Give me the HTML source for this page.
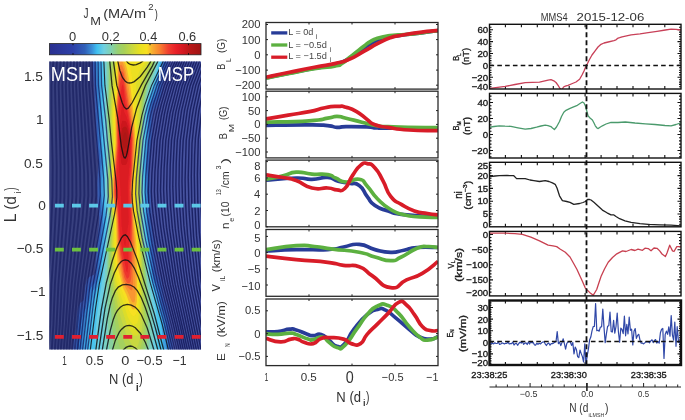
<!DOCTYPE html>
<html><head><meta charset="utf-8"><style>
html,body{margin:0;padding:0;background:#fff;overflow:hidden;}
svg{display:block;will-change:transform;}
text{font-family:"Liberation Sans", sans-serif;}
</style></head><body>
<svg width="685" height="420" viewBox="0 0 685 420" font-family='"Liberation Sans", sans-serif'><rect width="685" height="420" fill="#fff"/><linearGradient id="cbg" x1="0" x2="1" y1="0" y2="0"><stop offset="0.003" stop-color="#2a3090"/><stop offset="0.155" stop-color="#2d40a8"/><stop offset="0.234" stop-color="#3060b8"/><stop offset="0.281" stop-color="#3a90d8"/><stop offset="0.314" stop-color="#40c0f0"/><stop offset="0.360" stop-color="#70d0e0"/><stop offset="0.405" stop-color="#80d0b0"/><stop offset="0.452" stop-color="#98d070"/><stop offset="0.492" stop-color="#a8d058"/><stop offset="0.544" stop-color="#c8d840"/><stop offset="0.597" stop-color="#e8e020"/><stop offset="0.643" stop-color="#f8e020"/><stop offset="0.676" stop-color="#f8b030"/><stop offset="0.729" stop-color="#f88030"/><stop offset="0.783" stop-color="#f04030"/><stop offset="0.835" stop-color="#e82028"/><stop offset="0.888" stop-color="#d01820"/><stop offset="0.928" stop-color="#b81818"/><stop offset="1.000" stop-color="#a01414"/></linearGradient><rect x="49.5" y="43.6" width="151.5" height="11.2" fill="url(#cbg)" stroke="#222" stroke-width="0.8"/><path d="M73.0,43.6 v1.6 M73.0,54.8 v-1.6" stroke="#111" stroke-width="1"/><path d="M111.5,43.6 v1.6 M111.5,54.8 v-1.6" stroke="#111" stroke-width="1"/><path d="M150.0,43.6 v1.6 M150.0,54.8 v-1.6" stroke="#111" stroke-width="1"/><path d="M188.5,43.6 v1.6 M188.5,54.8 v-1.6" stroke="#111" stroke-width="1"/><clipPath id="cA"><rect x="49.3" y="61.4" width="151.7" height="288.2"/></clipPath><filter id="bl" x="-5%" y="-5%" width="110%" height="110%"><feGaussianBlur stdDeviation="0.6"/></filter><g clip-path="url(#cA)"><g filter="url(#bl)"><linearGradient id="ffg" gradientUnits="userSpaceOnUse" x1="100" x2="150" y1="0" y2="0"><stop offset="0" stop-color="#37417f"/><stop offset="1" stop-color="#4753a0"/></linearGradient><rect x="44.3" y="56.4" width="161.7" height="298.2" fill="url(#ffg)"/><path d="M92.1,58.4 168.5,58.4 167.2,73.4 166.1,77.4 163.3,82.0 161.3,96.4 160.2,101.4 157.7,106.4 153.3,110.2 152.9,112.4 151.5,144.4 149.7,166.4 151.6,221.4 152.3,228.5 153.9,237.4 156.6,271.4 157.3,274.9 160.3,278.4 161.6,281.4 162.6,286.4 164.3,300.2 166.8,303.4 168.1,307.4 170.3,331.0 172.4,340.4 173.3,352.4 72.8,352.4 73.6,342.4 76.3,327.0 77.2,314.4 78.5,306.4 80.3,302.8 83.3,300.8 84.1,298.4 85.5,285.4 87.2,279.4 89.3,277.0 94.3,274.6 94.9,272.4 97.8,235.4 99.2,222.4 99.2,217.4 97.7,204.4 97.4,195.4 97.4,182.4 98.3,163.4 96.6,147.4 94.3,89.6 92.1,58.4Z" fill="#3b5aad"/><path d="M93.3,58.4 166.8,58.4 165.5,66.4 162.1,76.4 158.5,95.4 156.4,100.4 153.3,104.3 151.4,111.4 150.1,142.4 148.5,159.4 148.3,167.4 150.0,222.4 152.6,244.4 154.7,270.4 156.3,278.3 160.5,288.4 163.3,304.2 166.8,313.4 169.3,339.2 171.3,352.4 75.2,352.4 76.9,341.4 79.0,318.4 79.9,313.4 81.2,310.4 84.3,305.9 87.2,289.4 88.3,285.8 90.9,282.4 94.3,279.9 95.7,276.4 100.3,225.4 100.3,214.4 98.5,191.4 99.4,161.4 97.6,142.4 95.3,86.4 93.3,58.4Z" fill="#325fb6"/><path d="M94.3,58.4 165.1,58.4 161.2,72.4 157.0,92.4 155.9,95.4 152.3,102.1 150.1,110.4 149.5,116.4 148.9,141.4 147.2,158.4 147.0,167.4 147.9,189.4 148.5,222.4 151.2,246.4 153.2,271.4 155.0,279.4 159.2,291.4 162.2,306.4 165.5,317.4 169.2,352.4 78.2,352.4 80.3,328.7 81.8,318.4 85.6,308.4 89.1,291.4 91.3,287.3 95.3,282.7 96.6,277.4 98.5,261.4 101.5,225.4 101.5,214.4 99.7,191.4 100.5,161.4 98.7,140.4 96.0,76.4 94.3,58.4Z" fill="#367bca"/><path d="M96.5,58.4 163.3,58.4 160.3,68.8 155.8,89.4 150.9,101.4 148.8,109.4 145.8,167.4 147.0,222.4 151.9,271.4 153.3,279.4 157.4,292.4 163.2,318.4 165.3,335.7 166.3,352.4 82.3,352.4 82.9,338.4 85.6,318.4 91.3,294.4 92.4,291.4 95.3,287.4 96.1,285.4 98.7,273.4 103.1,224.4 103.0,214.4 101.2,191.4 101.8,161.4 100.2,141.4 98.5,90.4 96.5,58.4Z" fill="#3ca0e0"/><path d="M99.8,58.4 161.3,58.4 155.0,85.4 149.3,101.2 147.7,108.4 147.0,115.4 144.5,167.4 145.5,219.4 146.1,228.4 151.4,277.4 152.7,283.4 155.6,293.4 160.8,319.4 162.8,339.4 163.2,352.4 87.7,352.4 88.3,336.4 90.9,313.4 93.3,301.5 98.9,283.4 100.7,274.4 105.1,222.4 105.0,215.4 103.2,192.4 103.3,160.4 102.1,141.4 101.7,106.4 99.8,58.4Z" fill="#4ac3ed"/><path d="M102.9,58.4 159.6,58.4 154.5,81.4 148.3,99.2 146.6,107.4 145.9,115.4 143.4,164.4 144.4,223.4 149.8,276.4 153.4,294.4 156.5,315.4 157.5,352.4 95.3,352.4 95.5,337.4 96.7,317.4 102.6,276.4 106.8,221.4 104.9,192.4 104.9,155.4 103.7,116.4 104.2,85.4 102.9,58.4Z" fill="#6bcee2"/><path d="M105.4,58.4 157.9,58.4 154.3,76.1 148.3,93.8 145.9,104.4 144.9,114.4 142.3,162.4 143.3,223.8 148.3,277.0 152.1,303.4 153.4,316.4 153.2,340.4 152.5,347.4 151.4,352.4 103.8,352.4 104.0,292.4 106.4,243.4 108.3,220.4 106.3,191.4 106.6,139.4 105.3,115.4 106.2,82.4 105.4,58.4Z" fill="#7ad0c3"/><path d="M107.2,58.4 156.5,58.4 154.3,70.4 148.3,88.0 145.3,101.4 144.0,114.4 141.3,161.5 142.3,222.6 144.3,243.4 147.3,283.0 150.6,316.4 150.0,338.4 148.9,346.4 147.5,352.4 109.0,352.4 106.8,279.4 107.7,244.4 109.6,220.4 107.5,192.4 108.1,141.4 106.7,116.4 107.6,90.4 107.2,58.4Z" fill="#87d09e"/><path d="M109.1,58.4 155.5,58.4 153.3,68.5 147.3,85.5 144.6,98.4 143.3,111.4 140.3,161.4 141.4,221.4 143.4,243.4 148.5,318.4 147.6,337.4 146.5,344.4 144.4,352.4 114.1,352.4 108.3,272.4 108.8,243.4 110.6,220.4 110.3,214.4 108.6,201.4 108.1,191.4 109.4,139.4 107.8,114.4 108.7,92.4 109.1,58.4Z" fill="#97d073"/><path d="M111.5,58.4 154.4,58.4 152.3,65.9 146.8,81.4 143.8,95.4 142.6,107.4 139.4,161.4 140.5,220.4 142.6,244.4 146.4,318.4 145.5,335.4 141.9,352.4 121.2,352.4 118.3,342.3 116.6,333.4 112.4,301.4 110.2,279.4 109.7,270.4 109.8,243.4 111.3,225.5 111.4,218.4 109.3,200.4 108.7,190.4 109.9,165.4 110.4,141.4 108.9,112.4 110.2,72.4 111.5,58.4Z" fill="#a4d05e"/><path d="M113.4,58.4 152.9,58.4 145.9,78.4 143.0,91.4 141.9,102.4 140.0,141.4 138.5,160.4 139.4,219.4 141.7,244.4 144.4,319.4 144.1,328.4 143.1,336.4 141.3,344.7 138.9,352.4 129.1,352.4 125.3,344.7 122.6,337.4 119.3,327.3 117.3,317.5 114.2,298.4 111.5,275.4 110.8,244.4 112.2,218.4 109.8,198.4 109.3,190.4 110.6,167.4 111.3,142.4 110.0,113.4 111.3,77.4 113.4,58.4Z" fill="#b6d34e"/><path d="M114.8,58.4 151.1,58.4 145.9,72.4 142.9,82.4 141.5,90.4 140.7,102.4 139.0,141.4 137.8,159.4 137.6,171.4 138.3,220.4 140.3,235.6 141.0,246.4 142.2,290.4 142.4,321.4 141.8,329.4 140.3,337.4 138.3,344.4 137.3,346.6 136.3,347.4 133.3,347.2 128.3,338.9 125.9,333.4 121.3,319.4 119.3,312.4 116.3,298.0 114.0,284.4 112.8,272.4 111.7,245.4 112.9,218.4 112.3,210.5 110.3,196.5 110.0,189.4 112.1,142.4 110.9,116.4 111.2,101.4 112.4,80.4 114.8,58.4Z" fill="#c9d83f"/><path d="M115.8,58.4 149.3,58.4 141.3,78.6 139.9,87.4 139.1,100.4 138.0,141.4 136.9,162.4 136.9,194.4 137.4,222.4 140.2,245.4 141.0,302.4 140.5,317.4 139.8,326.4 138.3,333.7 137.3,335.5 136.3,335.6 133.3,335.5 128.3,328.3 127.1,325.4 119.3,300.5 115.3,283.8 114.0,273.4 112.7,246.4 113.6,218.4 111.0,195.4 110.8,189.4 113.0,142.4 111.9,117.4 112.1,105.4 115.8,58.4Z" fill="#dcdd2c"/><path d="M116.5,58.4 147.2,58.4 144.3,64.6 140.3,69.4 137.3,76.5 136.2,83.4 137.1,139.4 136.2,163.4 135.8,197.4 136.6,224.4 139.3,246.8 139.7,295.4 139.3,309.4 138.3,320.0 137.3,323.1 133.3,325.3 129.3,320.1 127.3,315.7 124.3,305.4 121.3,297.5 116.3,280.2 115.0,271.4 113.9,246.4 114.4,218.4 111.9,196.4 111.6,189.4 113.8,141.4 112.9,117.4 113.0,108.4 116.0,74.4 116.5,58.4Z" fill="#ece020"/><path d="M117.0,58.4 126.9,58.4 130.1,65.4 132.1,77.4 135.0,113.4 136.1,140.4 134.6,184.4 134.6,197.4 135.7,224.4 137.7,242.4 138.3,252.0 138.7,279.4 138.4,299.4 137.5,309.4 136.3,313.6 135.3,315.1 133.3,316.3 131.3,314.6 128.9,310.4 125.3,299.2 121.7,290.4 117.1,274.4 116.1,266.4 115.4,248.4 115.2,218.4 112.9,200.4 112.3,189.4 114.7,141.4 114.1,110.4 116.3,88.0 117.0,58.4ZM141.7,58.4 144.4,58.4 143.3,59.2 141.7,58.4Z" fill="#f7e020"/><path d="M117.7,58.4 122.9,58.4 125.4,63.4 126.9,68.4 130.4,86.4 133.3,110.4 134.9,128.4 135.2,145.4 133.3,193.4 134.3,221.4 136.5,245.4 137.1,267.4 137.1,295.4 136.8,301.4 135.9,306.4 135.0,308.4 134.3,309.3 133.3,309.6 132.3,309.1 130.7,306.4 126.3,294.4 122.9,287.4 118.1,268.4 116.7,253.4 116.0,218.4 113.0,195.4 113.1,178.4 115.5,142.4 115.1,112.4 117.0,90.4 117.7,58.4Z" fill="#f8b52e"/><path d="M119.2,59.4 119.8,58.4 121.3,58.7 124.4,66.4 125.7,71.4 128.7,87.4 131.6,107.4 134.2,132.4 134.4,145.4 132.4,191.4 133.3,221.6 135.0,243.4 135.5,294.4 134.9,300.4 134.3,302.2 133.3,302.6 132.3,302.3 131.3,300.4 128.0,292.4 123.3,283.6 119.5,266.4 117.6,250.4 116.6,216.4 114.3,203.2 113.4,194.4 113.6,178.4 116.3,142.4 115.9,110.4 117.5,93.4 118.3,65.1 119.2,59.4Z" fill="#f89630"/><path d="M120.1,65.4 121.3,64.7 122.3,66.3 123.7,69.4 124.9,74.4 130.6,110.4 133.5,134.4 133.6,144.4 131.6,190.4 133.7,242.4 133.7,256.4 132.9,284.4 132.3,289.5 131.3,290.4 127.3,286.9 126.3,285.4 123.8,280.4 122.3,274.4 118.9,253.4 118.0,240.4 117.2,215.4 116.4,209.4 114.3,199.2 113.8,193.4 114.1,178.4 116.8,143.4 116.5,110.4 117.8,95.4 118.9,71.4 119.3,67.6 120.1,65.4Z" fill="#f77830"/><path d="M121.0,71.4 121.3,71.1 122.3,71.4 123.3,72.9 124.3,77.4 131.9,126.4 132.8,137.4 132.0,169.4 130.8,189.4 132.1,217.4 132.3,255.6 131.2,278.4 130.3,282.0 129.3,283.0 128.3,283.2 127.3,282.9 126.3,281.6 124.3,277.4 120.3,255.8 118.6,238.4 117.5,211.4 115.1,199.4 114.3,192.4 114.4,183.4 117.4,144.4 117.1,110.4 119.3,77.1 120.3,72.5 121.0,71.4Z" fill="#f25230"/><path d="M122.1,77.4 123.3,78.4 123.8,81.4 125.9,97.4 131.2,128.4 132.1,138.4 131.4,169.4 130.0,188.4 131.6,221.4 130.3,268.4 129.3,276.2 128.3,278.1 127.3,278.7 126.3,277.4 124.3,272.0 120.8,251.4 119.1,234.4 117.8,208.4 115.3,195.7 114.9,191.4 115.2,181.4 117.8,146.4 117.8,110.4 119.7,85.4 120.6,80.4 122.1,77.4Z" fill="#ed352d"/><path d="M122.1,85.4 122.3,84.8 123.3,85.8 125.2,103.4 127.3,111.9 130.0,126.4 131.3,138.4 130.8,166.4 129.5,179.4 129.0,189.4 129.4,201.4 130.7,215.4 130.7,224.4 128.9,243.4 128.1,266.4 127.3,272.7 126.3,271.1 121.3,244.9 119.3,225.3 118.4,205.4 117.7,199.4 116.3,194.6 115.9,190.4 118.4,148.4 118.5,113.4 120.3,94.8 122.1,85.4Z" fill="#e82228"/><path d="M122.2,103.4 123.3,106.1 124.4,112.4 126.3,115.9 128.3,122.7 129.9,131.4 130.5,138.4 130.2,156.4 127.7,187.4 128.7,221.4 125.3,246.0 124.3,244.1 123.3,238.7 121.6,225.4 120.7,193.4 119.1,169.4 119.3,126.4 122.2,103.4Z" fill="#db1c24"/><path d="M121.9,121.4 122.3,120.6 125.3,121.1 126.3,121.8 128.3,127.6 129.5,135.4 129.6,144.4 128.9,154.4 127.3,162.3 126.3,164.6 125.3,165.0 122.3,165.0 121.3,163.7 120.3,155.4 120.1,133.4 120.9,125.4 121.9,121.4Z" fill="#cc181f"/><path d="M124.9,126.4 126.3,127.1 127.3,129.1 128.3,133.2 128.8,139.4 128.0,150.4 127.3,153.4 126.3,155.1 125.3,155.8 123.3,155.0 122.2,153.4 121.3,148.8 121.0,141.4 121.3,133.4 122.2,128.4 123.3,127.2 124.9,126.4Z" fill="#b81818"/><path d="M124.6,132.4 125.3,132.1 126.3,133.4 127.5,138.4 127.2,144.4 126.3,147.4 125.3,148.8 124.3,148.4 123.3,146.6 122.4,141.4 122.9,135.4 124.6,132.4Z" fill="#ae1616"/></g><g fill="none" stroke="#141a5a" stroke-opacity="0.85"><path d="M89.0,58.4 89.4,62.4 89.1,85.4 95.9,177.4 96.3,195.4 94.4,215.4 84.1,284.4 77.2,352.4M86.1,58.4 86.4,62.4 85.9,85.4 91.9,175.4 92.3,195.4 90.5,215.4 81.1,284.4 74.5,352.4M83.1,58.4 83.4,62.4 82.7,85.4 88.0,174.4 88.3,195.4 86.6,216.4 78.0,284.4 71.9,352.4M80.0,58.4 80.3,62.4 79.5,85.4 84.1,172.4 84.4,195.4 82.6,217.4 74.9,284.4 69.1,352.4M76.9,58.4 77.2,62.4 76.1,85.4 80.1,169.4 80.4,195.4 78.7,218.4 71.7,284.4 66.4,352.4M73.7,58.4 74.0,62.4 72.8,85.4 76.2,168.4 76.4,195.4 74.8,219.4 68.4,284.4 65.9,324.4 63.5,352.4M70.5,58.4 70.7,62.4 69.3,85.4 72.3,167.4 72.4,196.4 70.9,220.4 65.1,284.4 62.8,324.4 60.6,352.4M67.1,58.4 67.3,62.4 65.8,85.4 68.4,166.4 68.4,196.4 67.0,221.4 61.8,284.4 59.8,324.4 57.7,352.4M63.7,58.4 63.9,62.4 62.3,85.4 64.5,166.4 64.4,196.4 63.1,221.4 58.4,284.4 56.6,324.4 54.7,352.4M60.3,58.4 60.5,62.4 58.7,85.4 60.6,166.4 60.5,196.4 59.2,222.4 54.9,284.4 53.4,324.4 51.6,352.4M56.8,58.4 56.9,62.4 55.0,85.4 56.7,166.4 56.5,197.4 53.9,248.4 51.4,284.4 50.1,324.4 48.5,352.4M53.2,58.4 53.3,62.4 51.4,85.4 51.5,110.4 52.7,166.4 52.5,196.4 50.1,249.4 47.9,284.4 46.3,334.2M49.6,58.4 49.7,62.4 47.6,85.4 48.7,182.4 48.2,208.4 46.3,249.4" stroke-width="1.9" stroke-opacity="0.6"/><path d="M179.7,352.4 173.3,324.4 163.0,284.4 155.0,244.4 149.9,212.4 148.7,201.4 148.2,191.4 148.8,174.4 151.6,140.4 156.2,114.4 158.7,104.4 164.4,85.4 174.6,62.4 175.9,58.4M181.8,352.4 175.5,324.4 165.4,284.4 158.5,248.4 156.1,235.4 153.0,213.4 151.8,201.4 151.3,191.4 151.9,173.4 154.4,140.4 158.9,114.4 161.3,104.4 166.9,85.4 176.9,62.4 178.2,58.4M183.9,352.4 177.6,324.4 167.9,284.4 164.7,267.4 159.5,238.4 157.3,223.4 155.2,205.4 154.4,191.4 154.9,172.4 157.2,140.4 161.4,115.4 163.7,105.4 169.4,85.4 179.2,62.4 180.5,58.4M186.0,352.4 179.9,324.4 170.3,284.4 167.4,268.4 162.3,238.4 160.2,223.4 158.1,204.4 157.5,190.4 158.0,170.4 160.1,140.4 164.3,114.4 166.6,104.4 172.0,85.4 181.6,62.4 182.9,58.4M188.1,352.4 172.8,284.4 170.5,271.4 163.6,227.4 161.4,206.4 160.5,190.4 161.1,169.4 162.9,140.4 167.1,114.4 169.3,104.4 174.5,85.4 184.0,62.4 185.2,58.4M190.3,352.4 175.2,284.4 173.1,271.4 166.5,227.4 164.3,205.4 163.6,189.4 164.1,168.4 165.8,140.4 170.0,113.4 177.1,85.4 186.4,62.4 187.6,58.4M192.5,352.4 177.8,284.4 175.6,271.4 169.5,228.4 167.4,205.4 166.7,188.4 167.1,166.4 168.6,140.4 172.9,112.4 179.7,85.4 188.9,62.4 190.1,58.4M194.7,352.4 180.3,284.4 178.3,271.4 172.4,228.4 170.4,205.4 169.8,187.4 170.2,165.4 171.5,140.4 175.7,112.4 182.3,85.4 191.4,62.4 192.5,58.4M196.9,352.4 182.8,284.4 180.9,271.4 175.3,228.4 173.5,205.4 172.8,186.4 173.2,164.4 174.4,140.4 178.6,111.4 184.9,85.4 193.9,62.4 195.0,58.4M199.2,352.4 185.4,284.4 183.6,271.4 178.4,229.4 176.5,205.4 175.9,185.4 176.2,163.4 177.3,140.4 181.6,110.4 187.6,85.4 196.4,62.4 197.6,58.4M201.5,352.4 188.0,284.4 186.2,271.4 181.3,229.4 179.5,204.4 179.0,184.4 179.3,162.4 180.3,140.4 184.5,110.4 190.3,85.4 199.0,62.4 200.1,58.4M203.3,349.7 190.7,284.4 188.4,267.4 183.9,225.4 182.5,201.4 182.0,181.4 182.3,160.4 183.2,140.4 187.3,110.4 193.0,85.4 201.6,62.4 202.7,58.4M203.3,336.9 193.4,284.4 190.0,257.4 187.6,235.4 186.4,218.4 185.4,198.4 185.1,179.4 186.2,140.4 190.2,110.4 195.8,85.4 203.3,65.0M203.3,323.3 196.1,284.4 191.7,246.4 189.1,211.4 188.2,177.4 189.2,140.4 192.0,117.4 193.3,109.4 198.6,85.4 203.3,72.2M203.3,309.6 198.6,283.4 193.6,236.4 191.8,204.4 191.3,176.4 192.0,143.4 193.6,127.4 196.4,108.4 201.4,85.4 203.3,79.9M203.3,294.8 201.1,281.4 196.5,235.4 194.8,203.4 194.3,175.4 194.6,155.4 195.4,138.4 198.9,110.4 203.3,89.5M203.3,275.7 199.2,231.4 197.8,201.4 197.4,174.4 198.3,139.4 201.3,114.4 203.3,103.0M203.3,246.0 201.2,211.4 200.5,173.4 201.3,140.4 203.3,121.9" stroke-width="1.45"/><path d="M100.5,58.4 101.0,62.4 101.6,85.4 105.7,120.4 107.4,140.4 111.8,180.4 112.4,196.4 111.6,205.4 110.0,215.4 96.1,284.4 92.8,308.4 87.4,352.4M171.2,352.4 164.5,324.4 153.0,283.4 142.0,237.4 137.1,210.4 135.6,193.4 136.3,178.4 140.0,140.4 144.9,115.4 147.6,105.4 154.3,85.4 165.2,62.4 166.5,58.4M97.7,58.4 98.1,62.4 98.5,85.4 107.8,179.4 108.3,196.4 106.0,215.4 93.1,284.4 84.9,352.4M173.4,352.4 166.7,324.4 155.5,283.4 145.7,240.4 140.5,211.4 138.9,193.4 139.5,177.4 143.0,140.4 147.8,115.4 150.4,105.4 156.9,85.4 167.5,62.4 168.9,58.4M94.8,58.4 95.2,62.4 95.4,85.4 103.7,178.4 104.3,195.4 102.2,214.4 90.1,284.4 82.3,352.4M175.5,352.4 168.9,324.4 157.9,283.4 148.8,241.4 143.6,211.4 142.0,192.4 142.6,176.4 145.9,140.4 150.5,115.4 153.1,105.4 159.4,85.4 169.9,62.4 171.2,58.4M91.9,58.4 92.3,62.4 92.2,85.4 99.9,178.4 100.3,195.4 98.3,214.4 87.1,284.4 79.7,352.4M177.6,352.4 171.1,324.4 160.6,284.4 152.0,243.4 146.8,212.4 145.1,192.4 145.7,176.4 148.7,140.4 153.3,115.4 155.8,105.4 161.9,85.4 172.2,62.4 173.6,58.4" stroke-width="1.3" stroke-opacity="0.75"/><path d="M103.4,58.4 103.9,62.4 104.9,85.4 109.2,119.4 111.2,140.4 116.1,181.4 116.8,190.4 116.8,197.4 116.0,205.4 114.5,214.4 99.2,284.4 95.4,309.4 90.0,352.4M169.0,352.4 162.3,324.6 150.4,283.4 138.8,237.4 133.6,211.4 132.4,202.4 132.0,194.4 132.6,181.4 136.9,140.4 141.9,115.4 144.7,105.4 151.6,85.4 162.7,62.4 164.1,58.4" stroke-width="1.15" stroke="#101018" stroke-opacity="0.85"/><path d="M139.6,352.4 135.3,347.9 132.3,346.3 130.3,346.0 128.3,346.3 126.1,347.4 123.8,349.4 121.5,352.4M149.3,352.4 145.3,342.3 140.3,333.2 135.3,327.8 132.3,326.0 129.3,325.3 126.3,325.8 124.3,326.9 121.4,329.4 119.3,332.2 115.3,340.4 111.7,352.4M124.3,58.4 128.3,63.3 130.3,64.5 133.3,65.0 136.3,64.6 140.3,62.9 142.4,61.4 145.0,58.4M154.7,352.4 147.3,328.3 141.3,314.7 138.3,310.3 135.3,307.3 131.3,305.1 127.3,304.3 123.3,305.3 120.3,307.2 117.3,310.6 115.3,314.3 113.3,319.4 110.3,330.3 106.0,352.4M117.2,58.4 119.8,70.4 122.3,77.2 125.3,81.3 127.3,82.6 129.3,83.0 131.3,82.8 134.3,81.6 140.3,76.5 147.3,67.2 150.2,62.4 151.9,58.4M158.5,352.4 150.3,322.3 145.3,307.5 141.3,297.8 137.3,290.6 134.3,287.3 130.3,285.0 126.3,284.3 122.3,284.9 118.3,287.1 115.3,290.9 112.3,297.9 110.1,305.4 107.3,318.7 101.9,352.4M113.0,58.4 116.8,85.4 122.3,103.0 124.3,107.2 126.3,109.0 128.3,108.2 132.3,102.5 141.7,84.4 152.3,66.1 155.8,58.4M161.6,352.4 155.3,327.6 150.3,310.6 145.3,295.5 138.3,277.1 134.3,268.1 131.3,263.4 128.3,260.7 125.3,259.9 123.3,260.3 121.3,261.5 118.3,264.9 114.3,273.0 110.3,284.4 105.0,308.4 98.5,352.4M109.5,58.4 112.0,85.4 117.8,118.4 121.3,146.1 123.3,155.4 124.3,157.6 125.3,157.9 126.3,156.1 127.3,152.0 131.7,127.4 136.6,108.4 145.4,85.4 157.3,62.5 158.8,58.4M164.3,352.4 154.3,313.9 137.3,259.6 130.3,241.8 127.3,236.5 125.3,234.8 123.3,235.6 121.3,238.2 116.3,249.0 112.3,260.8 106.3,282.8 101.3,309.8 95.5,352.4" stroke-width="1.3" stroke="#111" stroke-opacity="0.85"/></g><clipPath id="jband"><path d="M93.9,58.4 165.8,58.4 161.3,75.1 157.6,93.4 156.0,97.4 152.9,102.4 150.7,110.4 149.4,141.4 147.8,158.4 147.5,167.4 149.1,222.4 153.7,270.4 156.0,280.4 159.7,290.4 162.6,305.4 166.1,316.4 170.1,352.4 76.7,352.4 80.6,317.4 85.0,307.4 88.3,290.4 90.3,286.4 95.0,281.4 96.2,277.4 101.0,226.4 101.0,214.4 99.2,191.4 100.1,161.4 98.2,141.4 95.8,82.4 93.9,58.4Z"/></clipPath><g clip-path="url(#jband)" fill="none" stroke="#141a5a" stroke-opacity="0.55" stroke-width="1.1"><path d="M89.0,58.4 89.4,62.4 89.1,85.4 95.9,177.4 96.3,195.4 94.4,215.4 84.1,284.4 77.2,352.4M86.1,58.4 86.4,62.4 85.9,85.4 91.9,175.4 92.3,195.4 90.5,215.4 81.1,284.4 74.5,352.4M83.1,58.4 83.4,62.4 82.7,85.4 88.0,174.4 88.3,195.4 86.6,216.4 78.0,284.4 71.9,352.4M80.0,58.4 80.3,62.4 79.5,85.4 84.1,172.4 84.4,195.4 82.6,217.4 74.9,284.4 69.1,352.4M76.9,58.4 77.2,62.4 76.1,85.4 80.1,169.4 80.4,195.4 78.7,218.4 71.7,284.4 66.4,352.4M73.7,58.4 74.0,62.4 72.8,85.4 76.2,168.4 76.4,195.4 74.8,219.4 68.4,284.4 65.9,324.4 63.5,352.4M70.5,58.4 70.7,62.4 69.3,85.4 72.3,167.4 72.4,196.4 70.9,220.4 65.1,284.4 62.8,324.4 60.6,352.4M67.1,58.4 67.3,62.4 65.8,85.4 68.4,166.4 68.4,196.4 67.0,221.4 61.8,284.4 59.8,324.4 57.7,352.4M63.7,58.4 63.9,62.4 62.3,85.4 64.5,166.4 64.4,196.4 63.1,221.4 58.4,284.4 56.6,324.4 54.7,352.4M60.3,58.4 60.5,62.4 58.7,85.4 60.6,166.4 60.5,196.4 59.2,222.4 54.9,284.4 53.4,324.4 51.6,352.4M56.8,58.4 56.9,62.4 55.0,85.4 56.7,166.4 56.5,197.4 53.9,248.4 51.4,284.4 50.1,324.4 48.5,352.4M53.2,58.4 53.3,62.4 51.4,85.4 51.5,110.4 52.7,166.4 52.5,196.4 50.1,249.4 47.9,284.4 46.3,334.2M49.6,58.4 49.7,62.4 47.6,85.4 48.7,182.4 48.2,208.4 46.3,249.4"/><path d="M179.7,352.4 173.3,324.4 163.0,284.4 155.0,244.4 149.9,212.4 148.7,201.4 148.2,191.4 148.8,174.4 151.6,140.4 156.2,114.4 158.7,104.4 164.4,85.4 174.6,62.4 175.9,58.4M181.8,352.4 175.5,324.4 165.4,284.4 158.5,248.4 156.1,235.4 153.0,213.4 151.8,201.4 151.3,191.4 151.9,173.4 154.4,140.4 158.9,114.4 161.3,104.4 166.9,85.4 176.9,62.4 178.2,58.4M183.9,352.4 177.6,324.4 167.9,284.4 164.7,267.4 159.5,238.4 157.3,223.4 155.2,205.4 154.4,191.4 154.9,172.4 157.2,140.4 161.4,115.4 163.7,105.4 169.4,85.4 179.2,62.4 180.5,58.4M186.0,352.4 179.9,324.4 170.3,284.4 167.4,268.4 162.3,238.4 160.2,223.4 158.1,204.4 157.5,190.4 158.0,170.4 160.1,140.4 164.3,114.4 166.6,104.4 172.0,85.4 181.6,62.4 182.9,58.4M188.1,352.4 172.8,284.4 170.5,271.4 163.6,227.4 161.4,206.4 160.5,190.4 161.1,169.4 162.9,140.4 167.1,114.4 169.3,104.4 174.5,85.4 184.0,62.4 185.2,58.4M190.3,352.4 175.2,284.4 173.1,271.4 166.5,227.4 164.3,205.4 163.6,189.4 164.1,168.4 165.8,140.4 170.0,113.4 177.1,85.4 186.4,62.4 187.6,58.4M192.5,352.4 177.8,284.4 175.6,271.4 169.5,228.4 167.4,205.4 166.7,188.4 167.1,166.4 168.6,140.4 172.9,112.4 179.7,85.4 188.9,62.4 190.1,58.4M194.7,352.4 180.3,284.4 178.3,271.4 172.4,228.4 170.4,205.4 169.8,187.4 170.2,165.4 171.5,140.4 175.7,112.4 182.3,85.4 191.4,62.4 192.5,58.4M196.9,352.4 182.8,284.4 180.9,271.4 175.3,228.4 173.5,205.4 172.8,186.4 173.2,164.4 174.4,140.4 178.6,111.4 184.9,85.4 193.9,62.4 195.0,58.4M199.2,352.4 185.4,284.4 183.6,271.4 178.4,229.4 176.5,205.4 175.9,185.4 176.2,163.4 177.3,140.4 181.6,110.4 187.6,85.4 196.4,62.4 197.6,58.4M201.5,352.4 188.0,284.4 186.2,271.4 181.3,229.4 179.5,204.4 179.0,184.4 179.3,162.4 180.3,140.4 184.5,110.4 190.3,85.4 199.0,62.4 200.1,58.4M203.3,349.7 190.7,284.4 188.4,267.4 183.9,225.4 182.5,201.4 182.0,181.4 182.3,160.4 183.2,140.4 187.3,110.4 193.0,85.4 201.6,62.4 202.7,58.4M203.3,336.9 193.4,284.4 190.0,257.4 187.6,235.4 186.4,218.4 185.4,198.4 185.1,179.4 186.2,140.4 190.2,110.4 195.8,85.4 203.3,65.0M203.3,323.3 196.1,284.4 191.7,246.4 189.1,211.4 188.2,177.4 189.2,140.4 192.0,117.4 193.3,109.4 198.6,85.4 203.3,72.2M203.3,309.6 198.6,283.4 193.6,236.4 191.8,204.4 191.3,176.4 192.0,143.4 193.6,127.4 196.4,108.4 201.4,85.4 203.3,79.9M203.3,294.8 201.1,281.4 196.5,235.4 194.8,203.4 194.3,175.4 194.6,155.4 195.4,138.4 198.9,110.4 203.3,89.5M203.3,275.7 199.2,231.4 197.8,201.4 197.4,174.4 198.3,139.4 201.3,114.4 203.3,103.0M203.3,246.0 201.2,211.4 200.5,173.4 201.3,140.4 203.3,121.9"/></g><path d="M49.3,205.6 H201.0" stroke="#5cc8e8" stroke-width="3.8" stroke-dasharray="8.9,8.2" stroke-dashoffset="11.5"/><path d="M49.3,249.6 H201.0" stroke="#6cc040" stroke-width="3.8" stroke-dasharray="8.9,8.2" stroke-dashoffset="11.5"/><path d="M49.3,336.9 H201.0" stroke="#e02030" stroke-width="3.8" stroke-dasharray="8.9,8.2" stroke-dashoffset="11.5"/></g><clipPath id="cm0"><rect x="266.0" y="22.5" width="172.0" height="66.6"/></clipPath><g clip-path="url(#cm0)"><path d="M266.0,77.8 C272.6,76.5 273.4,76.2 288.0,73.4 C302.6,70.6 300.7,70.9 314.5,68.3 C328.3,65.7 323.6,67.5 334.0,64.6 C344.4,61.7 342.4,61.8 349.0,58.6 C355.6,55.4 351.5,57.2 356.0,54.0 C360.5,50.8 357.4,52.2 364.0,48.0 C370.6,43.8 370.2,43.3 378.0,40.0 C385.8,36.7 383.4,38.4 390.0,37.0 C396.6,35.6 391.1,36.6 400.0,35.4 C408.9,34.2 408.2,34.5 419.6,33.1 C431.0,31.7 432.5,31.4 438.0,30.6" fill="none" stroke="#283c98" stroke-width="3.7" stroke-linejoin="round"/><path d="M266.0,78.2 C272.6,76.9 273.4,76.6 288.0,73.8 C302.6,71.0 300.5,71.0 314.5,68.7 C328.5,66.4 326.4,67.8 334.6,66.2 C342.9,64.6 337.6,66.0 342.0,63.5 C346.4,61.0 344.8,61.2 349.2,57.8 C353.6,54.3 352.1,55.5 356.5,52.0 C360.9,48.5 359.4,49.5 363.8,46.2 C368.2,42.9 366.7,43.5 371.1,41.1 C375.5,38.7 374.0,39.5 378.4,38.1 C382.8,36.7 381.3,37.2 385.7,36.4 C390.1,35.6 387.2,35.9 393.0,35.3 C398.8,34.7 397.0,35.2 405.0,34.5 C413.0,33.8 409.7,34.3 419.6,33.1 C429.5,31.9 432.5,31.4 438.0,30.6" fill="none" stroke="#5cb040" stroke-width="3.7" stroke-linejoin="round"/><path d="M266.0,77.3 C272.7,75.9 273.8,75.5 288.3,72.5 C302.9,69.5 300.6,69.9 314.5,67.2 C328.4,64.5 324.2,66.0 334.6,63.6 C345.0,61.2 340.4,63.0 349.2,59.3 C358.0,55.6 355.0,56.1 363.8,51.3 C372.6,46.5 370.5,47.2 378.4,43.2 C386.3,39.2 383.5,40.1 390.1,37.8 C396.7,35.5 391.3,37.1 400.3,35.5 C409.3,33.9 408.7,33.8 420.0,32.3 C431.3,30.8 432.6,31.0 438.0,30.4" fill="none" stroke="#d81c28" stroke-width="3.7" stroke-linejoin="round"/></g><rect x="266.0" y="22.5" width="172.0" height="66.6" fill="none" stroke="#2a2a2a" stroke-width="1.3"/><path d="M266.0,24.5 h2 M438.0,24.5 h-2 M266.0,39.6 h2 M438.0,39.6 h-2 M266.0,54.8 h2 M438.0,54.8 h-2 M266.0,70.1 h2 M438.0,70.1 h-2 M266.0,85.2 h2 M438.0,85.2 h-2 M309.0,22.5 v2 M309.0,89.1 v-2 M352.0,22.5 v2 M352.0,89.1 v-2 M395.0,22.5 v2 M395.0,89.1 v-2 " stroke="#222" stroke-width="1"/><clipPath id="cm1"><rect x="266.0" y="91.2" width="172.0" height="66.7"/></clipPath><g clip-path="url(#cm1)"><path d="M266.0,125.3 C278.9,125.1 290.5,124.7 309.0,124.8 C327.5,124.9 319.3,124.8 327.7,125.6 C336.1,126.4 331.4,127.1 336.9,127.4 C342.4,127.7 337.0,126.8 346.0,126.6 C355.0,126.4 357.5,126.5 367.0,126.9 C376.5,127.3 369.2,127.6 377.6,128.0 C386.0,128.4 376.9,128.0 395.0,128.2 C413.1,128.4 425.1,128.5 438.0,128.6" fill="none" stroke="#283c98" stroke-width="3.7" stroke-linejoin="round"/><path d="M266.0,122.2 C278.9,121.8 290.5,122.0 309.0,120.8 C327.5,119.6 319.3,119.5 327.7,118.2 C336.1,116.9 331.4,116.4 336.9,116.4 C342.4,116.4 338.5,116.5 346.0,118.2 C353.5,119.9 353.1,120.1 361.8,122.2 C370.5,124.3 365.5,123.9 375.0,125.3 C384.5,126.7 374.5,126.2 393.4,126.9 C412.3,127.6 424.6,127.4 438.0,127.6" fill="none" stroke="#5cb040" stroke-width="3.7" stroke-linejoin="round"/><path d="M266.0,119.0 C272.7,117.8 275.3,117.3 288.3,115.1 C301.3,112.9 298.3,113.8 309.3,111.6 C320.3,109.4 316.3,109.3 325.0,107.7 C333.7,106.1 331.9,106.6 338.2,106.4 C344.5,106.2 340.5,105.6 346.0,107.2 C351.5,108.8 350.3,107.9 356.6,111.6 C362.9,115.3 361.6,115.5 367.1,119.5 C372.6,123.5 368.7,122.4 375.0,124.8 C381.3,127.2 377.9,125.8 388.1,127.4 C398.3,129.0 394.1,129.0 409.1,130.0 C424.1,131.0 429.3,130.4 438.0,130.6" fill="none" stroke="#d81c28" stroke-width="3.7" stroke-linejoin="round"/></g><rect x="266.0" y="91.2" width="172.0" height="66.7" fill="none" stroke="#2a2a2a" stroke-width="1.3"/><path d="M266.0,96.8 h2 M438.0,96.8 h-2 M266.0,110.6 h2 M438.0,110.6 h-2 M266.0,124.4 h2 M438.0,124.4 h-2 M266.0,138.2 h2 M438.0,138.2 h-2 M266.0,152.0 h2 M438.0,152.0 h-2 M309.0,91.2 v2 M309.0,157.9 v-2 M352.0,91.2 v2 M352.0,157.9 v-2 M395.0,91.2 v2 M395.0,157.9 v-2 " stroke="#222" stroke-width="1"/><clipPath id="cm2"><rect x="266.0" y="160.1" width="172.0" height="66.7"/></clipPath><g clip-path="url(#cm2)"><path d="M266.0,180.1 C275.1,179.5 282.4,178.2 296.2,178.0 C310.0,177.8 302.4,179.5 311.9,179.3 C321.3,179.2 319.8,176.9 327.7,177.5 C335.6,178.1 331.9,179.5 338.2,181.2 C344.5,182.9 342.4,182.0 348.7,183.3 C355.0,184.6 353.7,181.5 359.2,185.4 C364.7,189.3 362.4,190.3 367.1,196.4 C371.8,202.5 368.7,201.2 375.0,205.6 C381.3,209.9 380.2,208.3 388.1,210.9 C396.0,213.5 386.3,212.5 401.3,214.3 C416.3,216.1 427.0,216.1 438.0,216.9" fill="none" stroke="#283c98" stroke-width="3.7" stroke-linejoin="round"/><path d="M266.0,179.3 C271.1,178.3 273.9,178.0 283.0,175.9 C292.1,173.8 287.5,172.7 296.2,172.2 C304.9,171.7 302.4,173.4 311.9,174.1 C321.3,174.8 320.6,173.4 327.7,174.6 C334.8,175.8 330.1,175.8 335.6,178.0 C341.1,180.2 339.0,181.6 346.1,182.0 C353.2,182.4 352.9,178.1 359.2,179.3 C365.5,180.5 361.6,180.0 367.1,185.9 C372.6,191.8 370.5,191.9 377.6,199.0 C384.7,206.1 382.8,204.8 390.7,209.5 C398.6,214.2 395.2,212.6 403.9,214.8 C412.6,217.0 409.4,216.1 419.6,216.9 C429.8,217.7 432.5,217.2 438.0,217.4" fill="none" stroke="#5cb040" stroke-width="3.7" stroke-linejoin="round"/><path d="M266.0,174.9 C271.1,175.7 273.9,175.8 283.0,177.5 C292.1,179.2 287.5,177.4 296.2,180.6 C304.9,183.8 302.4,185.8 311.9,188.0 C321.3,190.2 320.2,187.5 327.7,188.0 C335.2,188.5 331.8,189.7 336.9,189.8 C342.0,190.0 340.1,192.8 344.8,188.5 C349.5,184.2 347.9,182.3 352.6,175.4 C357.3,168.5 356.1,168.9 360.5,165.4 C364.9,161.9 362.8,162.8 367.1,163.6 C371.5,164.4 370.3,162.9 375.0,168.0 C379.7,173.1 378.2,172.1 382.9,180.6 C387.6,189.1 385.2,189.3 390.7,196.4 C396.2,203.5 394.2,200.0 401.3,204.3 C408.4,208.7 406.5,208.1 414.4,210.9 C422.3,213.7 420.4,212.3 427.5,213.5 C434.6,214.7 434.9,214.4 438.0,214.8" fill="none" stroke="#d81c28" stroke-width="3.7" stroke-linejoin="round"/></g><rect x="266.0" y="160.1" width="172.0" height="66.7" fill="none" stroke="#2a2a2a" stroke-width="1.3"/><path d="M266.0,161.6 h2 M438.0,161.6 h-2 M266.0,177.9 h2 M438.0,177.9 h-2 M266.0,194.2 h2 M438.0,194.2 h-2 M266.0,210.5 h2 M438.0,210.5 h-2 M266.0,226.8 h2 M438.0,226.8 h-2 M309.0,160.1 v2 M309.0,226.8 v-2 M352.0,160.1 v2 M352.0,226.8 v-2 M395.0,160.1 v2 M395.0,226.8 v-2 " stroke="#222" stroke-width="1"/><clipPath id="cm3"><rect x="266.0" y="229.5" width="172.0" height="66.8"/></clipPath><g clip-path="url(#cm3)"><path d="M266.0,251.0 C275.1,250.6 277.7,250.0 296.2,249.6 C314.7,249.2 313.5,250.4 327.7,249.6 C341.9,248.8 334.1,248.6 343.5,247.0 C352.9,245.4 349.8,243.6 359.2,244.4 C368.6,245.2 365.6,247.2 375.0,249.6 C384.4,252.0 382.0,252.1 390.7,252.3 C399.4,252.5 396.0,251.6 403.9,250.2 C411.8,248.8 406.8,248.3 417.0,247.5 C427.2,246.7 431.7,247.5 438.0,247.5" fill="none" stroke="#283c98" stroke-width="3.7" stroke-linejoin="round"/><path d="M266.0,249.6 C275.1,248.4 281.6,246.6 296.2,245.7 C310.8,244.8 303.5,245.5 314.5,246.5 C325.5,247.5 319.5,247.4 332.9,249.1 C346.3,250.8 346.6,249.9 359.2,252.3 C371.8,254.7 365.6,254.5 375.0,257.0 C384.4,259.5 382.8,260.7 390.7,260.7 C398.6,260.7 393.4,260.7 401.3,257.0 C409.2,253.3 409.1,251.5 417.0,248.3 C424.9,245.2 421.2,246.7 427.5,246.5 C433.8,246.3 434.9,247.2 438.0,247.5" fill="none" stroke="#5cb040" stroke-width="3.7" stroke-linejoin="round"/><path d="M266.0,256.2 C275.1,257.2 277.7,257.8 296.2,259.6 C314.7,261.4 313.5,260.6 327.7,262.3 C341.9,264.0 334.1,264.1 343.5,265.4 C352.9,266.7 350.5,263.6 359.2,266.7 C367.9,269.8 362.9,269.6 372.4,275.9 C381.8,282.2 380.5,286.5 390.7,287.7 C400.9,288.9 397.0,284.2 406.5,279.9 C416.0,275.6 412.9,278.8 422.3,273.3 C431.8,267.8 433.3,265.0 438.0,261.5" fill="none" stroke="#d81c28" stroke-width="3.7" stroke-linejoin="round"/></g><rect x="266.0" y="229.5" width="172.0" height="66.8" fill="none" stroke="#2a2a2a" stroke-width="1.3"/><path d="M266.0,236.4 h2 M438.0,236.4 h-2 M266.0,252.6 h2 M438.0,252.6 h-2 M266.0,268.8 h2 M438.0,268.8 h-2 M266.0,285.0 h2 M438.0,285.0 h-2 M309.0,229.5 v2 M309.0,296.3 v-2 M352.0,229.5 v2 M352.0,296.3 v-2 M395.0,229.5 v2 M395.0,296.3 v-2 " stroke="#222" stroke-width="1"/><clipPath id="cm4"><rect x="266.0" y="299.0" width="172.0" height="66.6"/></clipPath><g clip-path="url(#cm4)"><path d="M266.0,331.8 C269.5,331.7 270.7,332.3 277.8,331.5 C284.9,330.7 284.1,329.6 289.6,329.2 C295.1,328.8 291.1,328.6 296.2,330.0 C301.3,331.4 301.6,332.2 306.7,333.9 C311.8,335.6 308.9,335.6 313.2,335.7 C317.5,335.8 316.4,333.0 321.1,334.4 C325.8,335.8 324.3,336.7 329.0,340.2 C333.7,343.7 332.2,345.2 336.9,346.2 C341.6,347.2 339.7,348.7 344.8,343.6 C349.9,338.5 347.3,337.9 354.0,329.2 C360.7,320.5 360.0,320.6 367.1,314.7 C374.2,308.8 372.1,310.9 377.6,309.5 C383.1,308.1 380.0,307.6 385.5,310.2 C391.0,312.8 388.9,312.4 396.0,318.1 C403.1,323.8 402.0,323.5 409.1,329.2 C416.2,334.9 413.3,334.0 419.6,337.0 C425.9,340.0 424.7,339.2 430.2,339.1 C435.7,339.0 435.7,337.3 438.0,336.5" fill="none" stroke="#283c98" stroke-width="3.7" stroke-linejoin="round"/><path d="M266.0,333.9 C269.5,334.0 270.7,334.6 277.8,334.4 C284.9,334.2 284.1,333.1 289.6,333.1 C295.1,333.1 290.7,332.6 296.2,334.4 C301.7,336.2 302.9,337.5 308.0,339.1 C313.1,340.7 308.9,340.3 313.2,339.7 C317.5,339.1 317.7,336.2 322.4,337.0 C327.1,337.8 324.6,339.2 329.0,342.3 C333.4,345.4 332.2,346.6 336.9,347.5 C341.6,348.4 338.9,350.9 344.8,345.4 C350.7,339.9 349.9,338.4 356.6,329.2 C363.3,320.0 360.8,321.7 367.1,314.7 C373.4,307.7 371.3,308.8 377.6,306.0 C383.9,303.2 381.8,303.3 388.1,305.5 C394.4,307.7 392.3,307.1 398.6,313.4 C404.9,319.7 402.8,319.4 409.1,326.5 C415.4,333.6 414.1,332.9 419.6,337.0 C425.1,341.1 422.0,340.2 427.5,340.2 C433.0,340.2 434.9,338.0 438.0,337.0" fill="none" stroke="#5cb040" stroke-width="3.7" stroke-linejoin="round"/><path d="M266.0,338.4 C270.3,339.4 272.9,341.6 280.4,341.8 C287.9,342.0 285.8,339.9 290.9,339.1 C296.0,338.3 293.6,338.1 297.5,339.1 C301.4,340.1 299.3,340.9 304.0,342.3 C308.7,343.7 308.1,344.8 313.2,343.6 C318.3,342.4 316.0,340.2 321.1,338.4 C326.2,336.6 323.6,337.4 330.3,337.6 C337.0,337.8 337.2,337.3 343.5,339.1 C349.8,340.9 346.2,342.2 351.3,343.6 C356.4,345.0 355.8,346.4 360.5,343.6 C365.2,340.8 362.0,340.3 367.1,334.4 C372.2,328.5 371.3,330.2 377.6,323.9 C383.9,317.6 381.8,319.8 388.1,313.4 C394.4,306.9 393.1,304.9 398.6,302.4 C404.1,299.9 401.8,301.3 406.5,305.0 C411.2,308.7 409.7,308.2 414.4,314.7 C419.1,321.1 417.6,321.8 422.3,326.5 C427.0,331.2 425.5,329.3 430.2,330.5 C434.9,331.7 435.7,330.5 438.0,330.5" fill="none" stroke="#d81c28" stroke-width="3.7" stroke-linejoin="round"/></g><rect x="266.0" y="299.0" width="172.0" height="66.6" fill="none" stroke="#2a2a2a" stroke-width="1.3"/><path d="M266.0,310.8 h2 M438.0,310.8 h-2 M266.0,333.6 h2 M438.0,333.6 h-2 M266.0,356.4 h2 M438.0,356.4 h-2 M309.0,299.0 v2 M309.0,365.6 v-2 M352.0,299.0 v2 M352.0,365.6 v-2 M395.0,299.0 v2 M395.0,365.6 v-2 " stroke="#222" stroke-width="1"/><path d="M271.2,32.9 H287.3" stroke="#283c98" stroke-width="3.3"/><path d="M271.2,45.0 H287.3" stroke="#5cb040" stroke-width="3.3"/><path d="M271.2,57.2 H287.3" stroke="#d81c28" stroke-width="3.3"/><clipPath id="cr0"><rect x="489.5" y="24.3" width="191.5" height="64.7"/></clipPath><path d="M505.4,24.3 v3 M505.4,89.0 v-3 M521.4,24.3 v3 M521.4,89.0 v-3 M537.3,24.3 v3 M537.3,89.0 v-3 M553.3,24.3 v3 M553.3,89.0 v-3 M569.2,24.3 v3 M569.2,89.0 v-3 M585.1,24.3 v3 M585.1,89.0 v-3 M601.1,24.3 v3 M601.1,89.0 v-3 M617.0,24.3 v3 M617.0,89.0 v-3 M633.0,24.3 v3 M633.0,89.0 v-3 M648.9,24.3 v3 M648.9,89.0 v-3 M664.8,24.3 v3 M664.8,89.0 v-3 M489.5,86.8 h2.0 M681.0,86.8 h-2.0 M489.5,84.4 h2.0 M681.0,84.4 h-2.0 M489.5,82.1 h2.0 M681.0,82.1 h-2.0 M489.5,79.7 h2.0 M681.0,79.7 h-2.0 M489.5,77.3 h3.5 M681.0,77.3 h-3.5 M489.5,74.9 h2.0 M681.0,74.9 h-2.0 M489.5,72.5 h2.0 M681.0,72.5 h-2.0 M489.5,70.2 h2.0 M681.0,70.2 h-2.0 M489.5,67.8 h2.0 M681.0,67.8 h-2.0 M489.5,65.4 h3.5 M681.0,65.4 h-3.5 M489.5,63.0 h2.0 M681.0,63.0 h-2.0 M489.5,60.6 h2.0 M681.0,60.6 h-2.0 M489.5,58.3 h2.0 M681.0,58.3 h-2.0 M489.5,55.9 h2.0 M681.0,55.9 h-2.0 M489.5,53.5 h3.5 M681.0,53.5 h-3.5 M489.5,51.1 h2.0 M681.0,51.1 h-2.0 M489.5,48.7 h2.0 M681.0,48.7 h-2.0 M489.5,46.4 h2.0 M681.0,46.4 h-2.0 M489.5,44.0 h2.0 M681.0,44.0 h-2.0 M489.5,41.6 h3.5 M681.0,41.6 h-3.5 M489.5,39.2 h2.0 M681.0,39.2 h-2.0 M489.5,36.8 h2.0 M681.0,36.8 h-2.0 M489.5,34.5 h2.0 M681.0,34.5 h-2.0 M489.5,32.1 h2.0 M681.0,32.1 h-2.0 M489.5,29.7 h3.5 M681.0,29.7 h-3.5 M489.5,27.3 h2.0 M681.0,27.3 h-2.0 " stroke="#111" stroke-width="1.1"/><clipPath id="cr1"><rect x="489.5" y="93.4" width="191.5" height="64.6"/></clipPath><path d="M505.4,93.4 v3 M505.4,158.0 v-3 M521.4,93.4 v3 M521.4,158.0 v-3 M537.3,93.4 v3 M537.3,158.0 v-3 M553.3,93.4 v3 M553.3,158.0 v-3 M569.2,93.4 v3 M569.2,158.0 v-3 M585.1,93.4 v3 M585.1,158.0 v-3 M601.1,93.4 v3 M601.1,158.0 v-3 M617.0,93.4 v3 M617.0,158.0 v-3 M633.0,93.4 v3 M633.0,158.0 v-3 M648.9,93.4 v3 M648.9,158.0 v-3 M664.8,93.4 v3 M664.8,158.0 v-3 M489.5,156.9 h2.0 M681.0,156.9 h-2.0 M489.5,153.7 h2.0 M681.0,153.7 h-2.0 M489.5,150.5 h3.5 M681.0,150.5 h-3.5 M489.5,147.3 h2.0 M681.0,147.3 h-2.0 M489.5,144.1 h2.0 M681.0,144.1 h-2.0 M489.5,140.9 h2.0 M681.0,140.9 h-2.0 M489.5,137.7 h2.0 M681.0,137.7 h-2.0 M489.5,134.5 h3.5 M681.0,134.5 h-3.5 M489.5,131.3 h2.0 M681.0,131.3 h-2.0 M489.5,128.1 h2.0 M681.0,128.1 h-2.0 M489.5,124.9 h2.0 M681.0,124.9 h-2.0 M489.5,121.7 h2.0 M681.0,121.7 h-2.0 M489.5,118.5 h3.5 M681.0,118.5 h-3.5 M489.5,115.3 h2.0 M681.0,115.3 h-2.0 M489.5,112.1 h2.0 M681.0,112.1 h-2.0 M489.5,108.9 h2.0 M681.0,108.9 h-2.0 M489.5,105.7 h2.0 M681.0,105.7 h-2.0 M489.5,102.5 h3.5 M681.0,102.5 h-3.5 M489.5,99.3 h2.0 M681.0,99.3 h-2.0 M489.5,96.1 h2.0 M681.0,96.1 h-2.0 " stroke="#111" stroke-width="1.1"/><clipPath id="cr2"><rect x="489.5" y="162.3" width="191.5" height="64.5"/></clipPath><path d="M505.4,162.3 v3 M505.4,226.8 v-3 M521.4,162.3 v3 M521.4,226.8 v-3 M537.3,162.3 v3 M537.3,226.8 v-3 M553.3,162.3 v3 M553.3,226.8 v-3 M569.2,162.3 v3 M569.2,226.8 v-3 M585.1,162.3 v3 M585.1,226.8 v-3 M601.1,162.3 v3 M601.1,226.8 v-3 M617.0,162.3 v3 M617.0,226.8 v-3 M633.0,162.3 v3 M633.0,226.8 v-3 M648.9,162.3 v3 M648.9,226.8 v-3 M664.8,162.3 v3 M664.8,226.8 v-3 M489.5,224.2 h2.0 M681.0,224.2 h-2.0 M489.5,221.7 h2.0 M681.0,221.7 h-2.0 M489.5,219.1 h2.0 M681.0,219.1 h-2.0 M489.5,216.6 h2.0 M681.0,216.6 h-2.0 M489.5,214.0 h3.5 M681.0,214.0 h-3.5 M489.5,211.4 h2.0 M681.0,211.4 h-2.0 M489.5,208.9 h2.0 M681.0,208.9 h-2.0 M489.5,206.3 h2.0 M681.0,206.3 h-2.0 M489.5,203.8 h2.0 M681.0,203.8 h-2.0 M489.5,201.2 h3.5 M681.0,201.2 h-3.5 M489.5,198.6 h2.0 M681.0,198.6 h-2.0 M489.5,196.1 h2.0 M681.0,196.1 h-2.0 M489.5,193.5 h2.0 M681.0,193.5 h-2.0 M489.5,191.0 h2.0 M681.0,191.0 h-2.0 M489.5,188.4 h3.5 M681.0,188.4 h-3.5 M489.5,185.8 h2.0 M681.0,185.8 h-2.0 M489.5,183.3 h2.0 M681.0,183.3 h-2.0 M489.5,180.7 h2.0 M681.0,180.7 h-2.0 M489.5,178.2 h2.0 M681.0,178.2 h-2.0 M489.5,175.6 h3.5 M681.0,175.6 h-3.5 M489.5,173.0 h2.0 M681.0,173.0 h-2.0 M489.5,170.5 h2.0 M681.0,170.5 h-2.0 M489.5,167.9 h2.0 M681.0,167.9 h-2.0 M489.5,165.4 h2.0 M681.0,165.4 h-2.0 " stroke="#111" stroke-width="1.1"/><clipPath id="cr3"><rect x="489.5" y="231.4" width="191.5" height="64.5"/></clipPath><path d="M505.4,231.4 v3 M505.4,295.9 v-3 M521.4,231.4 v3 M521.4,295.9 v-3 M537.3,231.4 v3 M537.3,295.9 v-3 M553.3,231.4 v3 M553.3,295.9 v-3 M569.2,231.4 v3 M569.2,295.9 v-3 M585.1,231.4 v3 M585.1,295.9 v-3 M601.1,231.4 v3 M601.1,295.9 v-3 M617.0,231.4 v3 M617.0,295.9 v-3 M633.0,231.4 v3 M633.0,295.9 v-3 M648.9,231.4 v3 M648.9,295.9 v-3 M664.8,231.4 v3 M664.8,295.9 v-3 M489.5,292.1 h2.0 M681.0,292.1 h-2.0 M489.5,289.0 h2.0 M681.0,289.0 h-2.0 M489.5,286.0 h2.0 M681.0,286.0 h-2.0 M489.5,283.0 h2.0 M681.0,283.0 h-2.0 M489.5,279.9 h3.5 M681.0,279.9 h-3.5 M489.5,276.9 h2.0 M681.0,276.9 h-2.0 M489.5,273.9 h2.0 M681.0,273.9 h-2.0 M489.5,270.9 h2.0 M681.0,270.9 h-2.0 M489.5,267.8 h2.0 M681.0,267.8 h-2.0 M489.5,264.8 h3.5 M681.0,264.8 h-3.5 M489.5,261.8 h2.0 M681.0,261.8 h-2.0 M489.5,258.7 h2.0 M681.0,258.7 h-2.0 M489.5,255.7 h2.0 M681.0,255.7 h-2.0 M489.5,252.7 h2.0 M681.0,252.7 h-2.0 M489.5,249.7 h3.5 M681.0,249.7 h-3.5 M489.5,246.6 h2.0 M681.0,246.6 h-2.0 M489.5,243.6 h2.0 M681.0,243.6 h-2.0 M489.5,240.6 h2.0 M681.0,240.6 h-2.0 M489.5,237.5 h2.0 M681.0,237.5 h-2.0 M489.5,234.5 h3.5 M681.0,234.5 h-3.5 " stroke="#111" stroke-width="1.1"/><clipPath id="cr4"><rect x="489.5" y="300.5" width="191.5" height="64.5"/></clipPath><path d="M505.4,300.5 v3 M505.4,365.0 v-3 M521.4,300.5 v3 M521.4,365.0 v-3 M537.3,300.5 v3 M537.3,365.0 v-3 M553.3,300.5 v3 M553.3,365.0 v-3 M569.2,300.5 v3 M569.2,365.0 v-3 M585.1,300.5 v3 M585.1,365.0 v-3 M601.1,300.5 v3 M601.1,365.0 v-3 M617.0,300.5 v3 M617.0,365.0 v-3 M633.0,300.5 v3 M633.0,365.0 v-3 M648.9,300.5 v3 M648.9,365.0 v-3 M664.8,300.5 v3 M664.8,365.0 v-3 M489.5,363.2 h2.0 M681.0,363.2 h-2.0 M489.5,360.9 h2.0 M681.0,360.9 h-2.0 M489.5,358.5 h2.0 M681.0,358.5 h-2.0 M489.5,356.2 h2.0 M681.0,356.2 h-2.0 M489.5,353.9 h3.5 M681.0,353.9 h-3.5 M489.5,351.6 h2.0 M681.0,351.6 h-2.0 M489.5,349.3 h2.0 M681.0,349.3 h-2.0 M489.5,346.9 h2.0 M681.0,346.9 h-2.0 M489.5,344.6 h2.0 M681.0,344.6 h-2.0 M489.5,342.3 h3.5 M681.0,342.3 h-3.5 M489.5,340.0 h2.0 M681.0,340.0 h-2.0 M489.5,337.7 h2.0 M681.0,337.7 h-2.0 M489.5,335.3 h2.0 M681.0,335.3 h-2.0 M489.5,333.0 h2.0 M681.0,333.0 h-2.0 M489.5,330.7 h3.5 M681.0,330.7 h-3.5 M489.5,328.4 h2.0 M681.0,328.4 h-2.0 M489.5,326.1 h2.0 M681.0,326.1 h-2.0 M489.5,323.7 h2.0 M681.0,323.7 h-2.0 M489.5,321.4 h2.0 M681.0,321.4 h-2.0 M489.5,319.1 h3.5 M681.0,319.1 h-3.5 M489.5,316.8 h2.0 M681.0,316.8 h-2.0 M489.5,314.5 h2.0 M681.0,314.5 h-2.0 M489.5,312.1 h2.0 M681.0,312.1 h-2.0 M489.5,309.8 h2.0 M681.0,309.8 h-2.0 M489.5,307.5 h3.5 M681.0,307.5 h-3.5 M489.5,305.2 h2.0 M681.0,305.2 h-2.0 M489.5,302.9 h2.0 M681.0,302.9 h-2.0 " stroke="#111" stroke-width="1.1"/><g clip-path="url(#cr0)"><path d="M490.0,88.4 L505.2,86.4 L515.0,84.5 L525.2,82.7 L539.5,82.1 L548.1,80.1 L551.0,79.6 L553.8,80.8 L556.0,82.5 L558.1,85.4 L560.0,88.5 L561.0,89.5 L562.5,89.0 L563.5,87.0 L565.3,86.2 L568.0,85.3 L572.4,83.5 L576.0,82.0 L579.6,79.2 L582.0,75.0 L584.0,71.0 L585.3,67.8 L587.0,64.5 L589.6,59.2 L592.0,55.0 L595.3,50.6 L598.0,47.0 L601.0,44.3 L604.0,43.0 L608.2,42.0 L613.9,40.6 L616.0,39.8 L617.5,38.4 L619.6,37.7 L622.1,36.8 L631.1,34.9 L640.0,33.8 L648.2,32.6 L657.0,31.3 L665.4,30.0 L671.1,29.2 L676.0,29.4 L681.0,30.0" fill="none" stroke="#c84058" stroke-width="1.3" stroke-linejoin="round"/></g><g clip-path="url(#cr1)"><path d="M490.0,127.2 L494.0,126.5 L499.4,125.8 L505.0,126.2 L510.9,126.3 L518.0,127.8 L525.2,129.2 L531.0,128.5 L536.6,127.2 L541.0,126.0 L545.2,125.2 L548.0,125.6 L550.9,126.6 L552.5,128.0 L554.4,129.5 L556.5,127.0 L559.5,121.5 L561.5,116.5 L563.8,112.3 L566.0,110.3 L569.5,108.6 L573.0,107.2 L576.7,105.7 L580.0,103.5 L582.4,102.0 L584.0,103.0 L585.3,105.7 L586.5,110.0 L588.1,115.8 L590.0,118.0 L592.4,120.0 L594.0,123.0 L595.3,125.8 L597.0,128.0 L598.2,128.6 L600.0,127.2 L602.4,125.8 L606.0,124.0 L611.0,122.3 L618.0,122.5 L625.3,122.0 L635.0,123.0 L645.4,123.8 L655.0,124.5 L665.0,125.5 L671.1,125.8 L676.0,124.5 L681.0,122.9" fill="none" stroke="#4a9a6c" stroke-width="1.3" stroke-linejoin="round"/></g><g clip-path="url(#cr2)"><path d="M490.0,176.6 L495.0,176.0 L499.4,175.7 L507.0,175.5 L513.8,175.7 L516.6,178.6 L525.2,178.6 L530.0,180.0 L533.8,180.6 L539.5,181.5 L545.2,180.6 L549.0,181.5 L552.4,182.9 L555.2,184.3 L557.0,188.0 L559.5,195.8 L562.4,200.6 L566.7,201.5 L570.0,202.3 L573.8,204.3 L579.6,203.5 L583.0,202.5 L585.3,201.5 L587.5,199.5 L589.6,199.5 L591.0,200.0 L593.9,202.3 L598.0,206.0 L602.4,210.1 L607.0,212.8 L611.0,214.9 L613.9,214.9 L616.0,216.5 L619.6,218.7 L625.0,220.8 L631.1,222.4 L640.0,223.6 L648.2,224.4 L660.0,224.9 L671.1,225.2 L681.0,225.8" fill="none" stroke="#222" stroke-width="1.3" stroke-linejoin="round"/></g><g clip-path="url(#cr3)"><path d="M490.0,233.2 L505.2,233.2 L515.0,233.6 L522.3,234.3 L530.9,237.2 L539.5,240.9 L548.1,245.2 L553.0,245.8 L556.7,246.6 L560.0,249.0 L565.3,252.3 L570.0,257.0 L573.8,263.8 L577.0,269.5 L579.6,275.2 L582.5,281.5 L585.3,288.1 L589.6,292.4 L593.3,295.2 L596.7,289.5 L599.0,282.5 L601.0,276.6 L604.5,269.0 L608.2,262.3 L612.5,257.5 L616.8,253.8 L622.5,250.9 L626.0,251.5 L631.1,249.5 L635.0,250.5 L638.0,249.2 L642.5,250.3 L645.0,248.2 L648.2,248.6 L651.0,250.8 L654.0,248.0 L657.0,248.3 L659.7,250.9 L662.0,254.0 L665.4,256.6 L667.0,253.0 L669.7,245.2 L672.5,250.9 L674.0,251.5 L676.8,246.6 L681.0,246.6" fill="none" stroke="#c84050" stroke-width="1.3" stroke-linejoin="round"/></g><g clip-path="url(#cr4)"><path d="M490.0,345.0 L491.2,343.1 L492.4,343.5 L493.6,343.9 L494.8,342.8 L496.0,343.5 L497.2,343.5 L498.4,341.9 L499.6,344.4 L500.8,344.0 L502.0,342.9 L503.2,343.3 L504.4,344.0 L505.6,343.3 L506.8,343.3 L508.0,342.2 L509.2,344.0 L510.4,343.6 L511.6,343.7 L512.8,342.1 L514.0,345.0 L515.2,343.6 L516.4,343.2 L517.6,345.3 L518.8,343.5 L520.0,342.2 L521.2,343.1 L522.4,341.4 L523.6,344.4 L524.8,343.1 L526.0,342.8 L527.2,344.5 L528.4,342.0 L529.6,344.0 L530.8,341.6 L532.0,342.9 L533.2,342.4 L534.4,344.8 L535.6,345.1 L536.8,343.2 L538.0,344.3 L539.2,343.3 L540.4,344.0 L541.6,342.8 L542.8,342.0 L544.0,341.9 L545.2,343.8 L546.4,345.5 L547.6,343.7 L548.8,343.0 L550.0,345.2 L551.2,343.7 L552.4,343.6 L553.6,343.1 L554.8,342.2 L556.0,341.8 L557.2,331.5 L558.4,343.6 L559.6,342.3 L560.8,345.6 L562.0,342.4 L563.2,338.8 L564.4,343.6 L565.6,349.1 L566.8,343.4 L568.0,342.2 L569.2,341.4 L570.4,342.3 L571.6,345.4 L572.8,342.5 L574.0,354.0 L575.2,347.1 L576.4,349.5 L577.6,356.5 L578.8,357.7 L580.0,350.0 L581.2,353.6 L582.4,356.6 L583.6,362.0 L584.8,343.8 L586.0,365.0 L587.2,355.6 L588.4,349.1 L589.6,340.0 L590.8,337.1 L592.0,330.9 L593.2,326.7 L594.4,326.4 L595.6,303.5 L596.8,330.7 L598.0,330.2 L599.2,331.2 L600.4,327.0 L601.6,326.8 L602.8,309.0 L604.0,327.4 L605.2,342.7 L606.4,333.9 L607.6,326.3 L608.8,325.7 L610.0,312.0 L611.2,331.7 L612.4,332.0 L613.6,320.3 L614.8,333.1 L616.0,326.5 L617.2,313.0 L618.4,331.7 L619.6,342.1 L620.8,328.2 L622.0,329.5 L623.2,333.6 L624.4,316.0 L625.6,335.8 L626.8,324.3 L628.0,333.8 L629.2,317.0 L630.4,330.3 L631.6,329.1 L632.8,344.9 L634.0,331.3 L635.2,328.5 L636.4,338.4 L637.6,335.4 L638.8,334.3 L640.0,340.1 L641.2,343.2 L642.4,343.0 L643.6,343.9 L644.8,342.9 L646.0,341.6 L647.2,342.0 L648.4,341.7 L649.6,342.8 L650.8,340.9 L652.0,339.8 L653.2,342.6 L654.4,340.5 L655.6,339.6 L656.8,343.1 L658.0,341.4 L659.2,343.2 L660.4,332.8 L661.6,329.3 L662.8,328.5 L664.0,358.5 L665.2,334.4 L666.4,331.1 L667.6,334.3 L668.8,326.8 L670.0,336.1 L671.2,315.5 L672.4,334.8 L673.6,340.2 L674.8,322.0 L676.0,346.3 L677.2,326.7 L678.4,340.6 L679.6,343.2 L680.8,341.9" fill="none" stroke="#3048a8" stroke-width="1.2" stroke-linejoin="round"/></g><path d="M489.5,65.5 H681.0" stroke="#111" stroke-width="1.5" stroke-dasharray="4.6,3.2"/><path d="M489.5,341.6 H681.0" stroke="#111" stroke-width="1.5" stroke-dasharray="4.6,3.2"/><path d="M586.5,24.3 V365.0" stroke="#111" stroke-width="1.8" stroke-dasharray="5,3"/><rect x="489.5" y="24.3" width="191.5" height="64.7" fill="none" stroke="#111" stroke-width="1.4"/><rect x="489.5" y="93.4" width="191.5" height="64.6" fill="none" stroke="#111" stroke-width="1.4"/><rect x="489.5" y="162.3" width="191.5" height="64.5" fill="none" stroke="#111" stroke-width="1.4"/><rect x="489.5" y="231.4" width="191.5" height="64.5" fill="none" stroke="#111" stroke-width="1.4"/><rect x="489.5" y="300.5" width="191.5" height="64.5" fill="none" stroke="#111" stroke-width="2.4"/><text transform="translate(458.8,57.0) rotate(-90)" text-anchor="middle" font-size="8.4" fill="#1a1a1a" stroke="#1a1a1a" stroke-width="0.3" textLength="7.5" lengthAdjust="spacingAndGlyphs">B<tspan font-size="5.5" dy="1.8">L</tspan></text><text transform="translate(468.6,56.5) rotate(-90)" text-anchor="middle" font-size="8.4" fill="#1a1a1a" stroke="#1a1a1a" stroke-width="0.3" textLength="17" lengthAdjust="spacingAndGlyphs">(nT)</text><text transform="translate(458.8,126.0) rotate(-90)" text-anchor="middle" font-size="8.4" fill="#1a1a1a" stroke="#1a1a1a" stroke-width="0.3" textLength="9.0" lengthAdjust="spacingAndGlyphs">B<tspan font-size="5.5" dy="1.8">M</tspan></text><text transform="translate(469.6,126.0) rotate(-90)" text-anchor="middle" font-size="8.4" fill="#1a1a1a" stroke="#1a1a1a" stroke-width="0.3" textLength="18" lengthAdjust="spacingAndGlyphs">(nT)</text><text transform="translate(462.0,195.0) rotate(-90)" text-anchor="middle" font-size="10.0" fill="#1a1a1a" stroke="#1a1a1a" stroke-width="0.3" textLength="7.6" lengthAdjust="spacingAndGlyphs">ni</text><text transform="translate(470.6,195.3) rotate(-90)" text-anchor="middle" font-size="8.4" fill="#1a1a1a" stroke="#1a1a1a" stroke-width="0.3" textLength="29" lengthAdjust="spacingAndGlyphs">(cm<tspan font-size="5.5" dy="-3.5">−3</tspan><tspan dy="3.5">)</tspan></text><text transform="translate(453.5,264.5) rotate(-90)" text-anchor="middle" font-size="8.4" fill="#1a1a1a" stroke="#1a1a1a" stroke-width="0.3" textLength="8.0" lengthAdjust="spacingAndGlyphs">V<tspan font-size="5.5" dy="1.8">L</tspan></text><text transform="translate(461.6,264.8) rotate(-90)" text-anchor="middle" font-size="8.4" fill="#1a1a1a" stroke="#1a1a1a" stroke-width="0.3" textLength="33.8" lengthAdjust="spacingAndGlyphs">(km/s)</text><text transform="translate(452.6,333.5) rotate(-90)" text-anchor="middle" font-size="8.4" fill="#1a1a1a" stroke="#1a1a1a" stroke-width="0.3" textLength="8.0" lengthAdjust="spacingAndGlyphs">E<tspan font-size="5.5" dy="1.8">N</tspan></text><text transform="translate(465.6,333.4) rotate(-90)" text-anchor="middle" font-size="8.4" fill="#1a1a1a" stroke="#1a1a1a" stroke-width="0.3" textLength="37" lengthAdjust="spacingAndGlyphs">(mV/m)</text><path d="M489.5,387 H681.0 M496.1,387 v-2.5 M507.4,387 v-2.5 M518.8,387 v-2.5 M530.1,387 v-4 M541.5,387 v-2.5 M552.9,387 v-2.5 M564.2,387 v-2.5 M575.5,387 v-2.5 M586.9,387 v-4 M598.2,387 v-2.5 M609.6,387 v-2.5 M620.9,387 v-2.5 M632.3,387 v-2.5 M643.6,387 v-4 M655.0,387 v-2.5 M666.4,387 v-2.5 M677.7,387 v-2.5 " stroke="#222" stroke-width="1"/><path d="M586.9,383 v8" stroke="#222" stroke-width="1.6"/><text transform="translate(68.98,40.50) scale(0.943,1)" font-size="13.7" fill="#333">0</text><text transform="translate(101.68,40.50) scale(0.943,1)" font-size="13.7" fill="#333">0.2</text><text transform="translate(139.59,40.50) scale(0.923,1)" font-size="13.7" fill="#333">0.4</text><text transform="translate(178.39,40.50) scale(0.936,1)" font-size="13.7" fill="#333">0.6</text><text transform="translate(83.60,17.90) scale(0.714,1)" font-size="14.0" fill="#333">J</text><text transform="translate(90.27,25.30) scale(1.167,1)" font-size="11.0" fill="#333">M</text><text transform="translate(103.23,17.90) scale(1.093,1)" font-size="13.3" fill="#333">(MA/m</text><text transform="translate(148.32,10.20) scale(1.112,1)" font-size="8.6" fill="#333">2</text><text transform="translate(154.71,17.90) scale(0.694,1)" font-size="13.3" fill="#333">)</text><text transform="translate(50.86,81.30) scale(0.890,1)" font-size="20.3" fill="#fff">MSH</text><text transform="translate(157.86,81.30) scale(0.825,1)" font-size="20.3" fill="#fff">MSP</text><text x="23.90" y="81.30" font-size="13.7" fill="#333">1.5</text><text x="35.91" y="123.90" font-size="13.7" fill="#333">1</text><text x="23.90" y="167.50" font-size="13.7" fill="#333">0.5</text><text x="38.28" y="210.30" font-size="13.7" fill="#333">0</text><text x="16.46" y="253.10" font-size="13.7" fill="#333">−0.5</text><text x="30.07" y="296.40" font-size="13.7" fill="#333">−1</text><text x="16.46" y="340.40" font-size="13.7" fill="#333">−1.5</text><text transform="translate(62.25,365.00) scale(0.594,1)" font-size="13.7" fill="#333">1</text><text transform="translate(85.78,365.00) scale(0.942,1)" font-size="13.7" fill="#333">0.5</text><text transform="translate(121.32,365.00) scale(1.064,1)" font-size="13.7" fill="#333">0</text><text transform="translate(136.33,365.00) scale(0.975,1)" font-size="13.7" fill="#333">−0.5</text><text transform="translate(172.58,365.00) scale(0.898,1)" font-size="13.7" fill="#333">−1</text><text transform="translate(109.07,383.70) scale(0.892,1)" font-size="14.5" fill="#333">N (d</text><text transform="translate(135.46,391.30) scale(1.425,1)" font-size="11.4" fill="#333">i</text><text transform="translate(139.09,383.70) scale(0.769,1)" font-size="14.5" fill="#333">)</text><text transform="translate(15.60,222.25) rotate(-90) scale(0.896,1)" font-size="17.4" fill="#333">L (d</text><text transform="translate(20.80,193.66) rotate(-90) scale(1.000,1)" font-size="9.5" fill="#333">i</text><text transform="translate(15.60,190.80) rotate(-90) scale(0.597,1)" font-size="17.4" fill="#333">)</text><text x="241.74" y="28.40" font-size="11.2" fill="#333">200</text><text x="241.74" y="43.50" font-size="11.2" fill="#333">100</text><text x="254.18" y="58.70" font-size="11.2" fill="#333">0</text><text x="235.25" y="74.00" font-size="11.2" fill="#333">−100</text><text x="235.25" y="89.10" font-size="11.2" fill="#333">−200</text><text x="241.74" y="100.70" font-size="11.2" fill="#333">100</text><text x="248.02" y="114.50" font-size="11.2" fill="#333">50</text><text x="254.18" y="128.30" font-size="11.2" fill="#333">0</text><text x="241.41" y="142.10" font-size="11.2" fill="#333">−50</text><text x="235.25" y="155.90" font-size="11.2" fill="#333">−100</text><text x="254.29" y="169.60" font-size="11.2" fill="#333">8</text><text x="254.29" y="182.10" font-size="11.2" fill="#333">6</text><text x="254.06" y="198.40" font-size="11.2" fill="#333">4</text><text x="254.29" y="214.70" font-size="11.2" fill="#333">2</text><text x="254.18" y="228.50" font-size="11.2" fill="#333">0</text><text x="254.29" y="241.90" font-size="11.2" fill="#333">5</text><text x="254.18" y="256.50" font-size="11.2" fill="#333">0</text><text x="247.68" y="272.70" font-size="11.2" fill="#333">−5</text><text x="241.41" y="290.20" font-size="11.2" fill="#333">−10</text><text x="244.88" y="314.10" font-size="11.2" fill="#333">0.5</text><text x="254.18" y="337.50" font-size="11.2" fill="#333">0</text><text x="238.38" y="359.50" font-size="11.2" fill="#333">−0.5</text><text transform="translate(288.17,35.30) scale(0.988,1)" font-size="9.2" fill="#444">L = 0d</text><text transform="translate(315.81,38.60) scale(1.000,1)" font-size="7.0" fill="#444">i</text><text transform="translate(288.16,47.90) scale(1.006,1)" font-size="9.2" fill="#444">L = −0.5d</text><text transform="translate(329.81,52.00) scale(1.000,1)" font-size="7.0" fill="#444">i</text><text transform="translate(288.16,59.00) scale(1.006,1)" font-size="9.2" fill="#444">L = −1.5d</text><text transform="translate(329.81,62.00) scale(1.000,1)" font-size="7.0" fill="#444">i</text><text transform="translate(224.80,69.72) rotate(-90) scale(0.854,1)" font-size="10.6" fill="#333">B</text><text transform="translate(230.80,61.93) rotate(-90) scale(0.824,1)" font-size="8.0" fill="#333">L</text><text transform="translate(224.80,52.99) rotate(-90) scale(0.929,1)" font-size="10.6" fill="#333">(G)</text><text transform="translate(227.10,139.34) rotate(-90) scale(0.872,1)" font-size="10.6" fill="#333">B</text><text transform="translate(234.20,132.20) rotate(-90) scale(1.250,1)" font-size="8.0" fill="#333">M</text><text transform="translate(227.10,120.06) rotate(-90) scale(0.886,1)" font-size="10.6" fill="#333">(G)</text><text transform="translate(229.00,228.92) rotate(-90) scale(1.101,1)" font-size="10.6" fill="#333">n</text><text transform="translate(233.80,221.79) rotate(-90) scale(0.904,1)" font-size="8.0" fill="#333">e</text><text transform="translate(229.00,216.42) rotate(-90) scale(0.971,1)" font-size="10.6" fill="#333">(10</text><text transform="translate(220.60,195.23) rotate(-90) scale(0.714,1)" font-size="7.5" fill="#333">13</text><text transform="translate(229.00,188.10) rotate(-90) scale(0.974,1)" font-size="10.6" fill="#333">/cm</text><text transform="translate(220.60,169.39) rotate(-90) scale(0.965,1)" font-size="7.5" fill="#333">3</text><text transform="translate(229.00,163.57) rotate(-90) scale(1.597,1)" font-size="10.6" fill="#333">)</text><text transform="translate(219.60,291.61) rotate(-90) scale(1.030,1)" font-size="10.6" fill="#333">V</text><text transform="translate(225.40,281.07) rotate(-90) scale(0.846,1)" font-size="8.0" fill="#333">iL</text><text transform="translate(219.60,272.21) rotate(-90) scale(1.110,1)" font-size="10.6" fill="#333">(km/s)</text><text transform="translate(224.60,360.93) rotate(-90) scale(1.101,1)" font-size="10.6" fill="#333">E</text><text transform="translate(230.40,347.01) rotate(-90) scale(0.647,1)" font-size="8.0" fill="#333">N</text><text transform="translate(224.60,337.34) rotate(-90) scale(1.158,1)" font-size="10.6" fill="#333">(kV/m)</text><text transform="translate(264.44,381.20) scale(0.601,1)" font-size="11.6" fill="#333">1</text><text transform="translate(300.64,381.20) scale(1.000,1)" font-size="11.6" fill="#333">0.5</text><text transform="translate(345.73,383.40) scale(0.910,1)" font-size="15.8" fill="#333">0</text><text transform="translate(381.75,381.20) scale(0.954,1)" font-size="11.6" fill="#333">−0.5</text><text transform="translate(426.17,381.20) scale(0.920,1)" font-size="11.6" fill="#333">−1</text><text transform="translate(336.36,401.90) scale(0.919,1)" font-size="14.2" fill="#333">N (d</text><text transform="translate(362.74,405.50) scale(1.447,1)" font-size="9.5" fill="#333">i</text><text transform="translate(365.90,401.90) scale(0.731,1)" font-size="14.2" fill="#333">)</text><text x="477.42" y="33.10" font-size="9.7" fill="#1a1a1a" stroke="#1a1a1a" stroke-width="0.35">60</text><text x="477.42" y="45.00" font-size="9.7" fill="#1a1a1a" stroke="#1a1a1a" stroke-width="0.35">40</text><text x="477.42" y="56.90" font-size="9.7" fill="#1a1a1a" stroke="#1a1a1a" stroke-width="0.35">20</text><text x="482.76" y="68.80" font-size="9.7" fill="#1a1a1a" stroke="#1a1a1a" stroke-width="0.35">0</text><text x="471.70" y="80.70" font-size="9.7" fill="#1a1a1a" stroke="#1a1a1a" stroke-width="0.35">−20</text><text x="471.70" y="89.70" font-size="9.7" fill="#1a1a1a" stroke="#1a1a1a" stroke-width="0.35">−40</text><text x="477.42" y="105.90" font-size="9.7" fill="#1a1a1a" stroke="#1a1a1a" stroke-width="0.35">40</text><text x="477.42" y="121.90" font-size="9.7" fill="#1a1a1a" stroke="#1a1a1a" stroke-width="0.35">20</text><text x="482.76" y="137.90" font-size="9.7" fill="#1a1a1a" stroke="#1a1a1a" stroke-width="0.35">0</text><text x="471.70" y="153.70" font-size="9.7" fill="#1a1a1a" stroke="#1a1a1a" stroke-width="0.35">−20</text><text x="477.42" y="168.60" font-size="9.7" fill="#1a1a1a" stroke="#1a1a1a" stroke-width="0.35">25</text><text x="477.42" y="179.00" font-size="9.7" fill="#1a1a1a" stroke="#1a1a1a" stroke-width="0.35">20</text><text x="477.42" y="191.70" font-size="9.7" fill="#1a1a1a" stroke="#1a1a1a" stroke-width="0.35">15</text><text x="477.42" y="204.30" font-size="9.7" fill="#1a1a1a" stroke="#1a1a1a" stroke-width="0.35">10</text><text x="482.85" y="217.30" font-size="9.7" fill="#1a1a1a" stroke="#1a1a1a" stroke-width="0.35">5</text><text x="482.76" y="228.00" font-size="9.7" fill="#1a1a1a" stroke="#1a1a1a" stroke-width="0.35">0</text><text x="482.76" y="238.20" font-size="9.7" fill="#1a1a1a" stroke="#1a1a1a" stroke-width="0.35">0</text><text x="471.70" y="252.70" font-size="9.7" fill="#1a1a1a" stroke="#1a1a1a" stroke-width="0.35">−50</text><text x="466.36" y="267.80" font-size="9.7" fill="#1a1a1a" stroke="#1a1a1a" stroke-width="0.35">−100</text><text x="466.36" y="283.00" font-size="9.7" fill="#1a1a1a" stroke="#1a1a1a" stroke-width="0.35">−150</text><text x="466.36" y="296.00" font-size="9.7" fill="#1a1a1a" stroke="#1a1a1a" stroke-width="0.35">−200</text><text x="477.42" y="311.00" font-size="9.7" fill="#1a1a1a" stroke="#1a1a1a" stroke-width="0.35">30</text><text x="477.42" y="322.60" font-size="9.7" fill="#1a1a1a" stroke="#1a1a1a" stroke-width="0.35">20</text><text x="477.42" y="334.20" font-size="9.7" fill="#1a1a1a" stroke="#1a1a1a" stroke-width="0.35">10</text><text x="482.76" y="345.70" font-size="9.7" fill="#1a1a1a" stroke="#1a1a1a" stroke-width="0.35">0</text><text x="471.70" y="357.30" font-size="9.7" fill="#1a1a1a" stroke="#1a1a1a" stroke-width="0.35">−10</text><text x="471.70" y="366.20" font-size="9.7" fill="#1a1a1a" stroke="#1a1a1a" stroke-width="0.35">−20</text><text transform="translate(540.85,21.40) scale(0.790,1)" font-size="11.8" fill="#333">MMS4</text><text transform="translate(576.54,21.40) scale(1.123,1)" font-size="11.8" fill="#333">2015-12-06</text><text transform="translate(471.34,377.80) scale(0.948,1)" font-size="9.8" fill="#1a1a1a" stroke="#1a1a1a" stroke-width="0.35">23:38:25</text><text transform="translate(550.84,377.80) scale(0.945,1)" font-size="9.8" fill="#1a1a1a" stroke="#1a1a1a" stroke-width="0.35">23:38:30</text><text transform="translate(630.84,377.80) scale(0.940,1)" font-size="9.8" fill="#1a1a1a" stroke="#1a1a1a" stroke-width="0.35">23:38:35</text><text transform="translate(519.75,397.20) scale(0.999,1)" font-size="9.0" fill="#333">−0.5</text><text transform="translate(581.15,397.20) scale(0.967,1)" font-size="9.0" fill="#333">0.0</text><text transform="translate(638.09,397.20) scale(0.874,1)" font-size="9.0" fill="#333">0.5</text><text transform="translate(569.19,412.20) scale(0.843,1)" font-size="12.0" fill="#333">N (d</text><text transform="translate(588.43,417.10) scale(0.993,1)" font-size="5.3" fill="#333">iLMSH</text><text transform="translate(604.90,412.20) scale(0.865,1)" font-size="12.0" fill="#333">)</text></svg>
</body></html>
